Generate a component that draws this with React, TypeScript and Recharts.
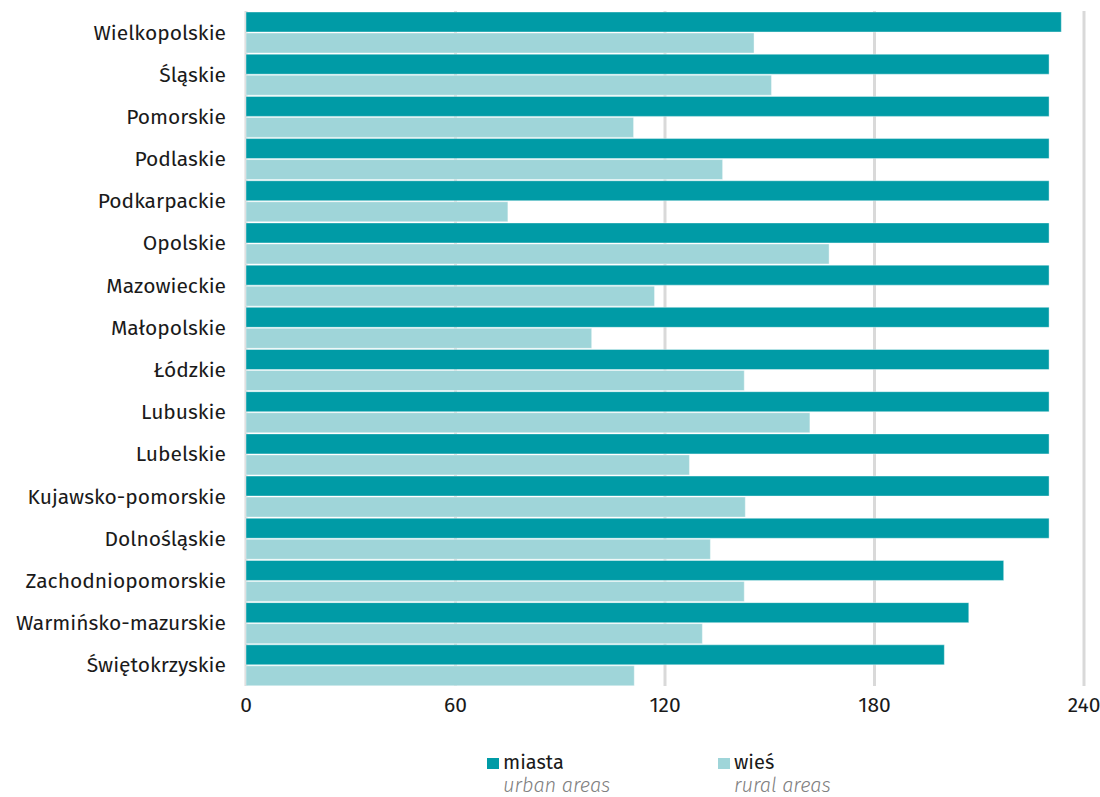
import React from 'react';
import { BarChart, Bar, XAxis, YAxis, CartesianGrid } from 'recharts';

const regions = [
  'Wielkopolskie', 'Śląskie', 'Pomorskie', 'Podlaskie', 'Podkarpackie', 'Opolskie',
  'Mazowieckie', 'Małopolskie', 'Łódzkie', 'Lubuskie', 'Lubelskie',
  'Kujawsko-pomorskie', 'Dolnośląskie', 'Zachodniopomorskie', 'Warmińsko-mazurskie', 'Świętokrzyskie',
];
const urban = [233.5, 230, 230, 230, 230, 230, 230, 230, 230, 230, 230, 230, 230, 217, 207, 200];
const rural = [145.5, 150.5, 111, 136.5, 75, 167, 117, 99, 142.7, 161.5, 127, 143, 133, 142.7, 130.7, 111.2];
const xTicks = [0, 60, 120, 180, 240];

const URBAN = '#009ba6';
const RURAL = '#9fd5d9';
const FONT = '"Fira Sans", "Noto Sans", sans-serif';

const data = regions.map((name, i) => ({ name, urban: urban[i], rural: rural[i] }));

const LegendItem = ({ color, label, sub, left }: { color: string; label: string; sub: string; left: number }) => (
  <div style={{ position: 'absolute', left, top: 0, fontFamily: FONT }}>
    <div style={{ position: 'absolute', left: 0, top: 18, width: 12, height: 11, background: color }} />
    <div style={{ position: 'absolute', left: 16, top: 12, fontSize: 20, color: '#1a1a1a', whiteSpace: 'nowrap', lineHeight: '20px' }}>{label}</div>
    <div style={{ position: 'absolute', left: 16, top: 35, fontSize: 20, color: '#808080', fontStyle: 'italic', fontWeight: 300, whiteSpace: 'nowrap', lineHeight: '20px' }}>{sub}</div>
  </div>
);

export default function App() {
  return (
    <div style={{ position: 'absolute', left: 0, top: 0, width: 1100, height: 797, background: '#fff', overflow: 'hidden' }}>
      <BarChart
        width={1100}
        height={720}
        data={data}
        layout="vertical"
        margin={{ top: 11, right: 16, left: 0, bottom: 4 }}
        barCategoryGap={1}
        barGap={1}
      >
        <CartesianGrid horizontal={false} stroke="#d9d9d9" strokeWidth={3} />
        <XAxis
          type="number"
          domain={[0, 240]}
          ticks={xTicks}
          axisLine={false}
          tickLine={false}
          height={30}
          tick={{ fill: '#1a1a1a', fontSize: 21, fontFamily: FONT }}
          tickMargin={5}
        />
        <YAxis
          type="category"
          dataKey="name"
          width={246}
          axisLine={false}
          tickLine={false}
          tickMargin={14}
          interval={0}
          tick={{ fill: '#1a1a1a', fontSize: 21, fontFamily: FONT }}
        />
        <Bar dataKey="urban" fill={URBAN} stroke="rgba(255,255,255,0.4)" strokeWidth={1} isAnimationActive={false} />
        <Bar dataKey="rural" fill={RURAL} stroke="rgba(255,255,255,0.4)" strokeWidth={1} isAnimationActive={false} />
      </BarChart>
      <div style={{ position: 'absolute', left: 0, top: 740, width: 1100, height: 57 }}>
        <LegendItem color={URBAN} label="miasta" sub="urban areas" left={487} />
        <LegendItem color={RURAL} label="wieś" sub="rural areas" left={718} />
      </div>
    </div>
  );
}
